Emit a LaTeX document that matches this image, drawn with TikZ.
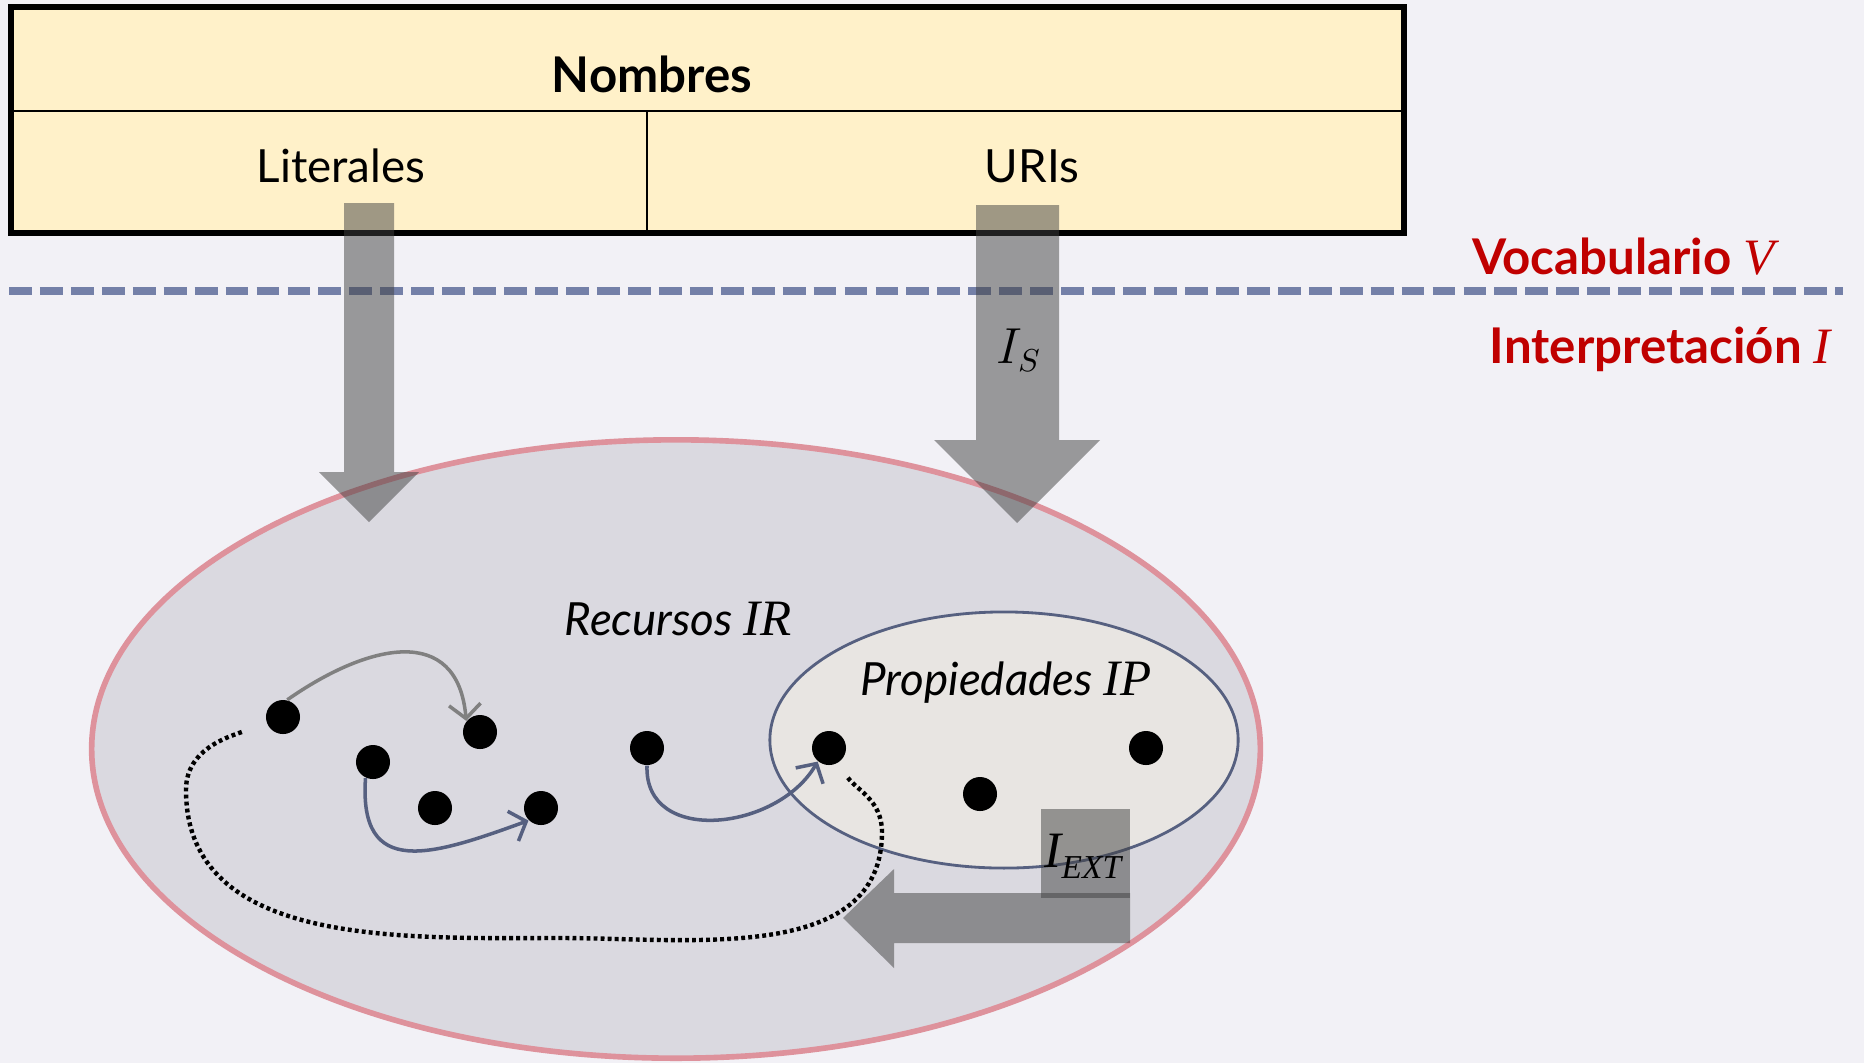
\documentclass[tikz,border=0pt]{standalone}
\usepackage{fontspec}
\setmainfont{Lato}
\newfontfamily\serifa{Liberation Serif}
\usetikzlibrary{arrows.meta}

\definecolor{fondo}{RGB}{242,241,246}
\definecolor{amarillo}{RGB}{255,241,201}
\definecolor{rojo}{RGB}{192,0,0}
\definecolor{raya}{RGB}{116,128,168}
\definecolor{recurso}{RGB}{218,217,224}
\definecolor{rosa}{RGB}{222,146,156}
\definecolor{propiedad}{RGB}{232,229,226}
\definecolor{azul}{RGB}{86,96,128}
\definecolor{sombra}{RGB}{64,64,64}

\begin{document}
\begin{tikzpicture}[x=0.01cm,y=0.01cm,
  punto/.style={circle,fill=black,inner sep=0pt,minimum size=0.34cm},
  enlace/.style={line width=1pt,-{Straight Barb[length=4pt,width=9pt,line width=1pt]}},
  punteado/.style={line width=1.25pt,dash pattern=on 1.1pt off 0.9pt},
  flechagr/.style={fill=sombra,fill opacity=0.5},
  rotulo/.style={font=\fontsize{14}{16}\selectfont\bfseries,text=rojo}]

  \newcommand\Tam{\fontsize{13}{15}\selectfont}
  \newcommand\Var[1]{{\serifa\fontsize{14.5}{16}\selectfont\itshape\mdseries #1}}

  \fill[fondo] (0,0) rectangle (1864,-1063);
  \useasboundingbox (0,0) rectangle (1864,-1063);

  %% vocabulario
  \draw[line width=1.7pt,fill=amarillo] (11,-7) rectangle (1404,-233);
  \draw[line width=0.7pt] (11,-111) -- (1404,-111);
  \draw[line width=0.5pt] (647,-111) -- (647,-233);
  \node[anchor=base] (nombres) at (652,-92) {\fontsize{14}{16}\selectfont\bfseries Nombres};
  \node[anchor=base] (literales) at (341,-182) {\Tam Literales};
  \node[anchor=base] (uris) at (1032,-182) {\Tam URIs};

  \draw[raya,line width=2pt,dash pattern=on 6.5pt off 2.3pt] (9,-291) -- (1843,-291);
  \node[rotulo,anchor=base east] (vocab) at (1787,-274) {Vocabulario \Var{V}};
  \node[rotulo,anchor=base east] (interp) at (1843,-363) {Interpretación \Var{I}};

  %% interpretacion
  \draw[fill=recurso,draw=rosa,line width=1.6pt]
  (676,-749) ellipse [x radius=5.84cm, y radius=3.09cm];
  \draw[fill=propiedad,draw=azul,line width=0.8pt]
  (1004,-740) ellipse [x radius=2.34cm, y radius=1.28cm];

  \node[anchor=base] (recursos) at (678,-635) {\Tam\itshape Recursos \Var{IR}};
  \node[anchor=base] (propiedades) at (1006,-695) {\Tam\itshape Propiedades \Var{IP}};

  \node[punto] (d1) at (283,-717) {};
  \node[punto] (d2) at (480,-732) {};
  \node[punto] (d3) at (373,-762) {};
  \node[punto] (d4) at (435,-808) {};
  \node[punto] (d5) at (541,-808) {};
  \node[punto] (d6) at (647,-748) {};
  \node[punto] (d7) at (829,-748) {};
  \node[punto] (d8) at (980,-794) {};
  \node[punto] (d9) at (1146,-748) {};

  \draw[enlace,gray] (d1.76) to[out=35,in=95,looseness=1.4] (d2.141); %% 1 -> 2
  \draw[enlace,azul] (d3.245) to[out=266,in=200,looseness=1.55] (d5.225); %% 3 -> 5
  \draw[enlace,azul] (d6.south) to[out=268,in=240,looseness=1.2] (d7.230); %% 6 -> 7
  \draw[punteado,shorten <=5pt,shorten >=7pt] (d7.300)
  to[out=-55,in=90] (882,-832) to[out=-90,in=0] (560,-938)
  to[out=180,in=-90] (186,-790) to[out=90,in=200] (d1); %% 7 -> 1

  %% flechas
  \fill[flechagr] (344,-203) -- (394,-203) -- (394,-472) -- (419,-472)
  -- (369,-522) -- (319,-472) -- (344,-472) -- cycle;
  \fill[flechagr] (976,-205) -- (1059,-205) -- (1059,-440) -- (1100,-440)
  -- (1017,-523) -- (934,-440) -- (976,-440) -- cycle;
  \fill[flechagr] (1041,-809) rectangle (1130,-898);
  \fill[flechagr] (1130,-893) -- (894,-893) -- (894,-869) -- (843,-918)
  -- (894,-968) -- (894,-943) -- (1130,-943) -- cycle;

  \node (is) at (1019,-350) {\fontsize{13.5}{16}\selectfont $I_S$};
  \node[anchor=base west,inner sep=0pt] (iext) at (1044,-867)
  {\Var{I}\raisebox{-3.4pt}{\serifa\itshape\fontsize{9.5}{11}\selectfont EXT}};

\end{tikzpicture}
\end{document}
